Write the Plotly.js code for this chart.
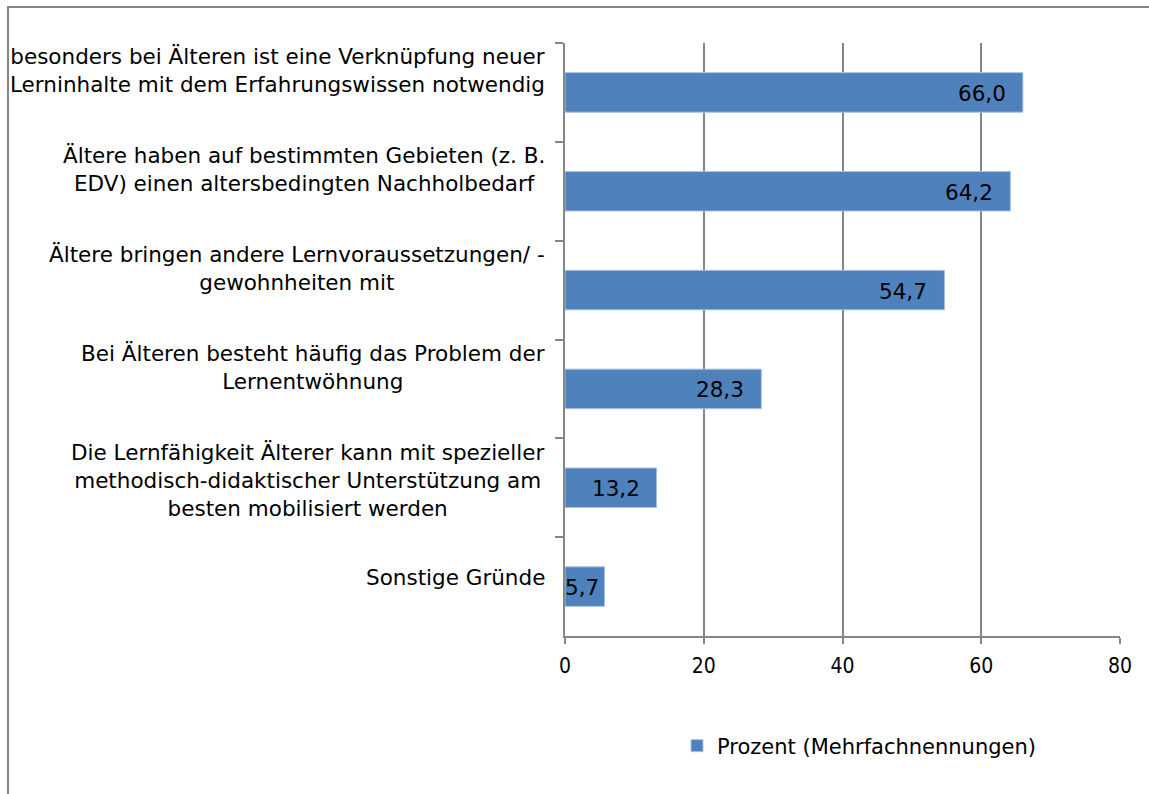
<!DOCTYPE html>
<html><head><meta charset="utf-8">
<script src="https://cdn.plot.ly/plotly-3.0.1.min.js"></script>
<style>body{margin:0;padding:0;background:#fff}#chart{width:1149px;height:794px}</style>
</head><body><div id="chart"></div>
<script>
const categories = [
  "besonders bei Älteren ist eine Verknüpfung neuer<br>Lerninhalte mit dem Erfahrungswissen notwendig",
  "Ältere haben auf bestimmten Gebieten (z. B.<br>EDV) einen altersbedingten Nachholbedarf",
  "Ältere bringen andere Lernvoraussetzungen/ -<br>gewohnheiten mit",
  "Bei Älteren besteht häufig das Problem der<br>Lernentwöhnung",
  "Die Lernfähigkeit Älterer kann mit spezieller<br>methodisch-didaktischer Unterstützung am<br>besten mobilisiert werden",
  "Sonstige Gründe"
];
const values = [66.0, 64.2, 54.7, 28.3, 13.2, 5.7];
const seriesName = "Prozent (Mehrfachnennungen)";
const xTicks = [0, 20, 40, 60, 80];

const FONT = "DejaVu Sans, sans-serif";
const FONT_C = "DejaVu Sans Condensed, DejaVu Sans, sans-serif";
const GRAY = "#868686";
const XMAX = 80;
const PLOT_W = 1149 - 565 - 29;
const LABEL_SIZE = 21.5;

const trace = {
  type: "bar", orientation: "h",
  x: values, y: categories, name: seriesName,
  marker: {color: "#4F81BD", line: {color: "#a9c1e0", width: 1}},
  hoverinfo: "skip"
};

const catAnn = categories.map(c => {
  const multi = c.indexOf("<br>") >= 0;
  return {
    xref: "paper", yref: "y", x: 0, y: c, xanchor: "right",
    yanchor: multi ? "top" : "middle", yshift: multi ? 50 : 9,
    xshift: -18, text: c, showarrow: false, align: "center",
    font: {family: FONT, size: LABEL_SIZE, color: "#000"}
  };
});

const valAnn = values.map((v, i) => {
  const txt = v.toFixed(1).replace(".", ",");
  const barPx = v / XMAX * PLOT_W;
  const labelPx = txt.length * 12;
  const fits = barPx >= labelPx + 17;
  return {
    xref: "x", yref: "y", x: fits ? v : 0, y: categories[i],
    xanchor: fits ? "right" : "left", yanchor: "middle",
    xshift: fits ? -15 : -2, yshift: -1,
    text: txt, showarrow: false,
    font: {family: FONT, size: LABEL_SIZE, color: "#000"}
  };
});

const layout = {
  width: 1149, height: 794,
  margin: {l: 565, r: 29, t: 43, b: 158},
  paper_bgcolor: "#fff", plot_bgcolor: "#fff",
  font: {family: FONT, size: 20, color: "#000"},
  bargap: 0.6,
  showlegend: true,
  legend: {orientation: "h", x: (677 - 565) / PLOT_W, y: (636 - 746) / 593,
           xanchor: "left", yanchor: "middle",
           font: {family: FONT, size: 21, color: "#000"}},
  xaxis: {range: [0, XMAX], tickvals: xTicks, ticktext: xTicks.map(String),
          showgrid: true, gridcolor: GRAY, gridwidth: 2,
          showline: true, linecolor: GRAY, linewidth: 2,
          ticks: "outside", ticklen: 6, tickcolor: GRAY, tickwidth: 2,
          ticklabelstandoff: 4,
          zeroline: false, tickfont: {family: FONT_C, size: 21}},
  yaxis: {autorange: "reversed", showticklabels: false,
          showline: true, linecolor: GRAY, linewidth: 2,
          ticks: "outside", tickson: "boundaries", ticklen: 8, tickcolor: GRAY, tickwidth: 2,
          showgrid: false, zeroline: false},
  annotations: catAnn.concat(valAnn),
  shapes: [{type: "rect", xref: "paper", yref: "paper",
            x0: (8 - 565) / PLOT_W, x1: 1.2, y0: -0.4, y1: (636 - 7) / 593,
            line: {color: GRAY, width: 2}, fillcolor: "rgba(0,0,0,0)", layer: "below"}]
};

Plotly.newPlot("chart", [trace], layout, {displayModeBar: false, staticPlot: true});
</script></body></html>
